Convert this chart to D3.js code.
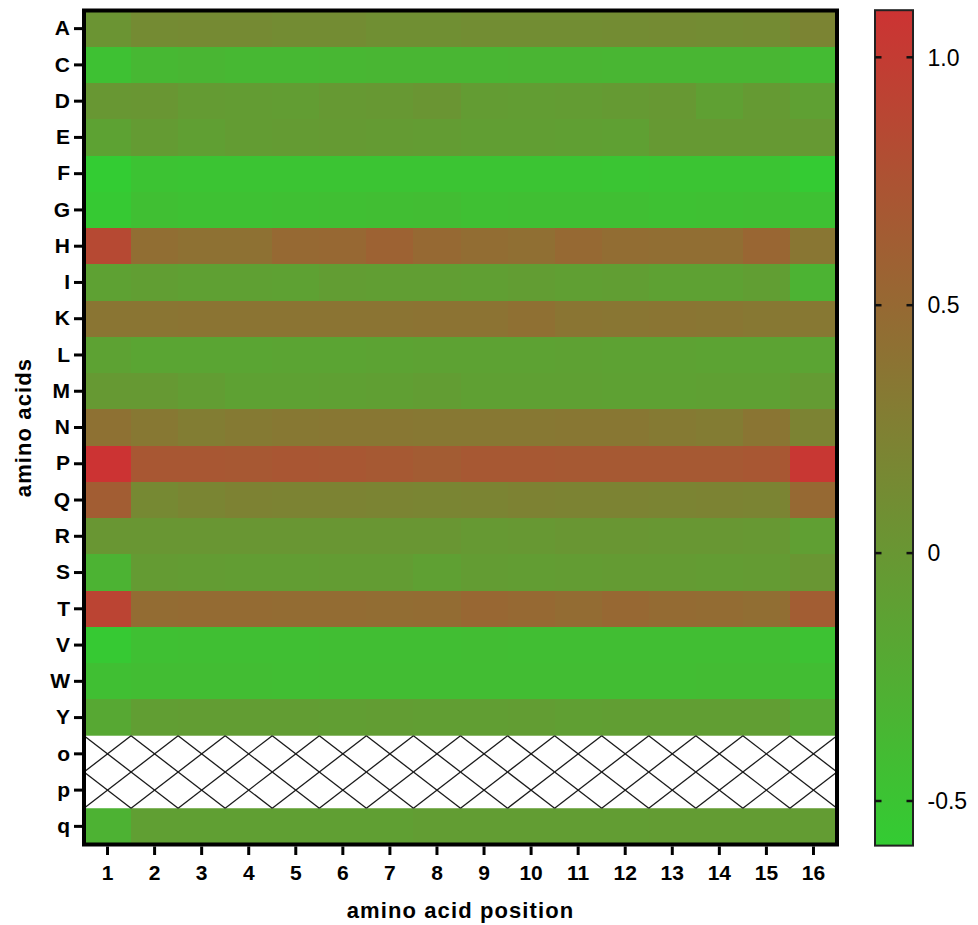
<!DOCTYPE html>
<html>
<head>
<meta charset="utf-8">
<script src="https://cdn.jsdelivr.net/npm/d3@7"></script>
<style>
  html, body { margin: 0; padding: 0; background: #fff; }
  svg { display: block; }
  text { font-family: "Liberation Sans", Arial, Helvetica, sans-serif; }
</style>
</head>
<body>
<svg id="chart" width="978" height="925"></svg>
<script>
// Residues (rows) and positions (columns)
const aminoAcids = ["A","C","D","E","F","G","H","I","K","L","M","N","P","Q","R","S","T","V","W","Y","o","p","q"];
const positions = ["1","2","3","4","5","6","7","8","9","10","11","12","13","14","15","16"];

// Score per residue across positions 1..16 (null = not measured)
const valsA = [0.03, 0.13, 0.14, 0.14, 0.12, 0.12, 0.08, 0.08, 0.10, 0.10, 0.10, 0.12, 0.13, 0.11, 0.13, 0.20];
const valsC = [-0.47, -0.37, -0.35, -0.37, -0.37, -0.36, -0.35, -0.35, -0.35, -0.34, -0.34, -0.35, -0.35, -0.35, -0.35, -0.40];
const valsD = [-0.01, 0.00, -0.05, -0.06, -0.07, -0.03, -0.02, 0.02, -0.06, -0.07, -0.06, -0.04, -0.02, -0.10, -0.04, -0.11];
const valsE = [-0.13, -0.05, -0.09, -0.06, -0.05, -0.04, -0.05, -0.06, -0.08, -0.08, -0.09, -0.10, -0.03, -0.03, -0.03, -0.03];
const valsF = [-0.59, -0.49, -0.50, -0.50, -0.50, -0.50, -0.50, -0.50, -0.50, -0.50, -0.50, -0.51, -0.50, -0.50, -0.50, -0.58];
const valsG = [-0.56, -0.45, -0.47, -0.47, -0.46, -0.45, -0.44, -0.43, -0.46, -0.45, -0.45, -0.45, -0.47, -0.46, -0.45, -0.47];
const valsH = [0.85, 0.45, 0.41, 0.41, 0.50, 0.51, 0.58, 0.50, 0.46, 0.43, 0.50, 0.46, 0.45, 0.45, 0.53, 0.36];
const valsI = [-0.12, -0.08, -0.10, -0.10, -0.12, -0.07, -0.08, -0.08, -0.09, -0.07, -0.09, -0.08, -0.12, -0.12, -0.08, -0.32];
const valsK = [0.37, 0.37, 0.38, 0.38, 0.38, 0.38, 0.38, 0.39, 0.39, 0.42, 0.37, 0.36, 0.37, 0.36, 0.33, 0.33];
const valsL = [-0.13, -0.16, -0.16, -0.16, -0.15, -0.15, -0.14, -0.13, -0.13, -0.13, -0.12, -0.13, -0.13, -0.14, -0.14, -0.15];
const valsM = [-0.03, -0.03, -0.07, -0.12, -0.12, -0.10, -0.09, -0.07, -0.10, -0.10, -0.10, -0.12, -0.12, -0.11, -0.11, -0.05];
const valsN = [0.41, 0.33, 0.28, 0.31, 0.34, 0.35, 0.35, 0.34, 0.34, 0.34, 0.35, 0.35, 0.31, 0.29, 0.37, 0.21];
const valsP = [1.09, 0.70, 0.70, 0.69, 0.71, 0.70, 0.68, 0.64, 0.69, 0.69, 0.68, 0.68, 0.68, 0.68, 0.70, 1.05];
const valsQ = [0.63, 0.15, 0.19, 0.22, 0.21, 0.21, 0.20, 0.19, 0.20, 0.22, 0.21, 0.21, 0.20, 0.21, 0.20, 0.50];
const valsR = [0.01, 0.01, 0.00, 0.00, 0.00, 0.00, 0.00, 0.00, -0.03, -0.02, 0.00, 0.00, -0.01, -0.01, -0.02, -0.09];
const valsS = [-0.31, -0.05, -0.06, -0.07, -0.07, -0.06, -0.06, -0.11, -0.06, -0.07, -0.06, -0.05, -0.05, -0.06, -0.05, 0.00];
const valsT = [0.91, 0.47, 0.48, 0.48, 0.47, 0.47, 0.46, 0.47, 0.52, 0.50, 0.47, 0.51, 0.48, 0.47, 0.45, 0.63];
const valsV = [-0.56, -0.46, -0.45, -0.45, -0.45, -0.44, -0.44, -0.44, -0.43, -0.44, -0.44, -0.44, -0.44, -0.44, -0.44, -0.48];
const valsW = [-0.45, -0.43, -0.43, -0.43, -0.44, -0.43, -0.43, -0.43, -0.43, -0.43, -0.43, -0.43, -0.42, -0.41, -0.41, -0.42];
const valsY = [-0.19, -0.08, -0.07, -0.07, -0.07, -0.08, -0.07, -0.08, -0.08, -0.07, -0.09, -0.08, -0.08, -0.08, -0.08, -0.19];
const valso = [null, null, null, null, null, null, null, null, null, null, null, null, null, null, null, null];
const valsp = [null, null, null, null, null, null, null, null, null, null, null, null, null, null, null, null];
const valsq = [-0.30, -0.09, -0.09, -0.09, -0.09, -0.09, -0.09, -0.07, -0.07, -0.07, -0.07, -0.07, -0.06, -0.06, -0.06, -0.06];

const rowValues = [valsA, valsC, valsD, valsE, valsF, valsG, valsH, valsI, valsK, valsL, valsM, valsN,
                   valsP, valsQ, valsR, valsS, valsT, valsV, valsW, valsY, valso, valsp, valsq];

// Colour bar range and ticks
const colorMin = -0.59, colorMax = 1.095;
const colorTicks = [-0.5, 0, 0.5, 1.0];
const colorTickLabels = ["-0.5", "0", "0.5", "1.0"];

const cells = [];
aminoAcids.forEach((aa, i) => {
  positions.forEach((pos, j) => {
    cells.push({ aa, pos, v: rowValues[i][j] });
  });
});

const svg = d3.select("#chart");

const plot = { left: 84, top: 10.5, right: 837, bottom: 844.5 };

const x = d3.scaleBand().domain(positions).range([plot.left, plot.right]).padding(0);
const y = d3.scaleBand().domain(aminoAcids).range([plot.top, plot.bottom]).padding(0);

const color = d3.scaleLinear()
  .domain([colorMin, colorMax])
  .range(["#33cc33", "#cc3333"])
  .interpolate(d3.interpolateRgb)
  .clamp(true);

// Heat cells
const g = svg.append("g");
g.selectAll("rect.cell")
  .data(cells.filter(d => d.v !== null))
  .join("rect")
  .attr("class", "cell")
  .attr("x", d => x(d.pos))
  .attr("y", d => y(d.aa))
  .attr("width", x.bandwidth() + 0.5)
  .attr("height", y.bandwidth() + 0.5)
  .attr("fill", d => color(d.v))
  .attr("shape-rendering", "crispEdges");

// Missing cells: white with crossed diagonals
const missing = cells.filter(d => d.v === null);
g.selectAll("rect.na")
  .data(missing)
  .join("rect")
  .attr("class", "na")
  .attr("x", d => x(d.pos))
  .attr("y", d => y(d.aa))
  .attr("width", x.bandwidth())
  .attr("height", y.bandwidth())
  .attr("fill", "#ffffff");
const hatch = g.append("g").attr("stroke", "#1a1a1a").attr("stroke-width", 1.3).attr("fill", "none");
missing.forEach(d => {
  const x0 = x(d.pos), x1 = x0 + x.bandwidth();
  const y0 = y(d.aa), y1 = y0 + y.bandwidth();
  hatch.append("line").attr("x1", x0).attr("y1", y0).attr("x2", x1).attr("y2", y1);
  hatch.append("line").attr("x1", x0).attr("y1", y1).attr("x2", x1).attr("y2", y0);
});

// Frame around the grid
svg.append("rect")
  .attr("x", plot.left).attr("y", plot.top)
  .attr("width", plot.right - plot.left).attr("height", plot.bottom - plot.top)
  .attr("fill", "none").attr("stroke", "#000").attr("stroke-width", 4);

// Axes
const yAxis = svg.append("g")
  .attr("transform", `translate(${plot.left - 2},0)`)
  .call(d3.axisLeft(y).tickSize(8).tickPadding(4));
const xAxis = svg.append("g")
  .attr("transform", `translate(0,${plot.bottom + 2})`)
  .call(d3.axisBottom(x).tickSize(8.5).tickPadding(10));
[xAxis, yAxis].forEach(ax => {
  ax.select(".domain").remove();
  ax.selectAll(".tick line").attr("stroke", "#000").attr("stroke-width", 3);
  ax.selectAll(".tick text")
    .attr("fill", "#000")
    .style("font-size", "21px")
    .style("font-weight", "bold");
});

// Axis titles
svg.append("text")
  .attr("x", (plot.left + plot.right) / 2)
  .attr("y", 918)
  .attr("text-anchor", "middle")
  .style("font-size", "22px")
  .style("font-weight", "bold")
  .style("letter-spacing", "1.1px")
  .text("amino acid position");

svg.append("text")
  .attr("transform", `translate(31,${(plot.top + plot.bottom) / 2}) rotate(-90)`)
  .attr("text-anchor", "middle")
  .style("font-size", "22px")
  .style("font-weight", "bold")
  .style("letter-spacing", "1.1px")
  .text("amino acids");

// Colour bar
const cb = { x: 875, width: 38 };
const cy = d3.scaleLinear().domain([-0.5, 1.0]).range([801, 57.3]);

const defs = svg.append("defs");
const grad = defs.append("linearGradient")
  .attr("id", "cbGrad")
  .attr("x1", 0).attr("y1", 1).attr("x2", 0).attr("y2", 0);
d3.range(0, 1.0001, 0.1).forEach(t => {
  grad.append("stop")
    .attr("offset", t)
    .attr("stop-color", color(colorMin + t * (colorMax - colorMin)));
});

svg.append("rect")
  .attr("x", cb.x).attr("y", cy(colorMax))
  .attr("width", cb.width).attr("height", cy(colorMin) - cy(colorMax))
  .attr("fill", "url(#cbGrad)")
  .attr("stroke", "#222").attr("stroke-width", 2);

const cbTicks = svg.append("g");
colorTicks.forEach((t, i) => {
  const ty = cy(t);
  cbTicks.append("line")
    .attr("x1", cb.x).attr("x2", cb.x + 6.5).attr("y1", ty).attr("y2", ty)
    .attr("stroke", "#111").attr("stroke-width", 2.5);
  cbTicks.append("line")
    .attr("x1", cb.x + cb.width - 6.5).attr("x2", cb.x + cb.width).attr("y1", ty).attr("y2", ty)
    .attr("stroke", "#111").attr("stroke-width", 2.5);
  cbTicks.append("text")
    .attr("x", 927.5).attr("y", ty).attr("dy", "0.36em")
    .style("font-size", "23px")
    .attr("fill", "#000")
    .text(colorTickLabels[i]);
});
</script>
</body>
</html>
